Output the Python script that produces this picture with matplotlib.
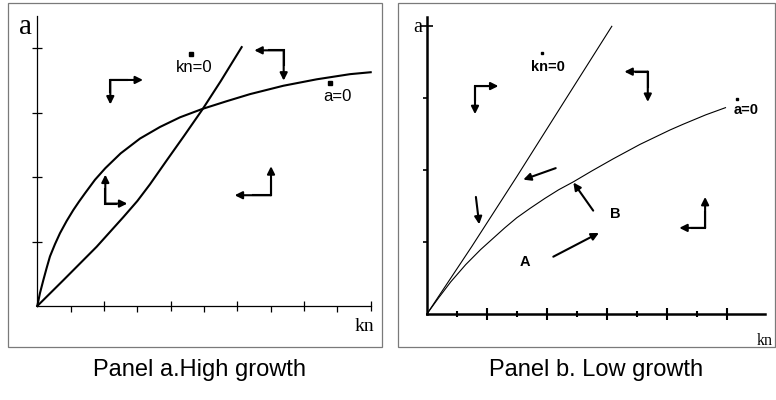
import matplotlib
matplotlib.use("Agg")
import matplotlib.pyplot as plt
from matplotlib.patches import Rectangle

# Panel a (high growth): the two nullclines
pa_kn_x = [0.0, 0.78, 1.78, 2.58, 3.00, 3.38, 3.88, 4.40, 4.95, 5.50, 6.13]
pa_kn_y = [0.0, 0.40, 0.92, 1.38, 1.63, 1.89, 2.26, 2.64, 3.05, 3.49, 4.02]
pa_a_x = [0.0, 0.08, 0.18, 0.28, 0.38, 0.53, 0.68, 0.88, 1.08, 1.25, 1.43, 1.73,
          2.04, 2.50, 3.08, 3.68, 4.28, 4.95, 5.68, 6.38, 7.38, 8.38, 9.38, 10.0]
pa_a_y = [0.0, 0.20, 0.40, 0.59, 0.77, 0.96, 1.13, 1.32, 1.49, 1.62, 1.75, 1.96,
          2.14, 2.37, 2.60, 2.78, 2.93, 3.06, 3.18, 3.29, 3.42, 3.52, 3.60, 3.63]

# Panel b (low growth)
pb_kn_x = [0.0, 1.50, 3.00, 4.50, 6.17]
pb_kn_y = [0.0, 0.94, 1.91, 2.90, 4.00]
pb_a_x = [0.0, 0.4, 0.8, 1.3, 1.8, 2.2, 2.6, 3.0, 3.44, 3.94, 4.4, 4.89, 5.5,
          6.22, 7.11, 8.11, 8.55, 9.3, 9.96]
pb_a_y = [0.0, 0.23, 0.45, 0.69, 0.90, 1.05, 1.20, 1.34, 1.47, 1.61, 1.73, 1.84,
          1.99, 2.16, 2.36, 2.56, 2.64, 2.77, 2.87]

# phase arrows: (corner, tip1, tip2) for the L shapes, (tail, head) for straight ones
pa_corners = [((2.19, 3.51), (3.17, 3.51), (2.19, 3.13)),
              ((7.39, 3.97), (6.51, 3.97), (7.39, 3.50)),
              ((2.04, 1.59), (2.04, 2.04), (2.70, 1.59)),
              ((7.01, 1.72), (7.01, 2.17), (5.92, 1.72))]
pb_corners = [((1.61, 3.17), (2.39, 3.17), (1.61, 2.78)),
              ((7.37, 3.37), (6.59, 3.37), (7.37, 2.95)),
              ((9.28, 1.20), (9.28, 1.63), (8.42, 1.20))]
pb_arrows = [((4.30, 2.03), (3.22, 1.87)),
             ((1.64, 1.63), (1.75, 1.25)),
             ((5.55, 1.44), (4.89, 1.83)),
             ((4.22, 0.80), (5.74, 1.13))]

W, H = 776, 400
SANS = "Liberation Sans"
SERIF = "Liberation Serif"


def fx(px):
    return px / W


def fy(py):
    return 1 - py / H


def arrow(ax, start, end, lw):
    ax.annotate("", xy=end, xytext=start,
                arrowprops=dict(arrowstyle="-|>", lw=lw, color="black",
                                mutation_scale=11, shrinkA=0, shrinkB=0))


def l_arrow(ax, corner, tip1, tip2, lw):
    # short polyline through the corner so the joint is closed
    m1 = ((corner[0] + tip1[0]) / 2, (corner[1] + tip1[1]) / 2)
    m2 = ((corner[0] + tip2[0]) / 2, (corner[1] + tip2[1]) / 2)
    ax.plot([m1[0], corner[0], m2[0]], [m1[1], corner[1], m2[1]],
            color="black", lw=lw, solid_joinstyle="miter", clip_on=False)
    arrow(ax, corner, tip1, lw)
    arrow(ax, corner, tip2, lw)


def style_axes(ax, xmax, ymax, lw):
    ax.set_xlim(0, xmax)
    ax.set_ylim(0, ymax)
    ax.patch.set_visible(False)
    for side in ["top", "right"]:
        ax.spines[side].set_visible(False)
    for side in ["left", "bottom"]:
        ax.spines[side].set_linewidth(lw)
    ax.set_xticks([2, 4, 6, 8, 10])
    ax.set_xticks([1, 3, 5, 7, 9], minor=True)
    ax.tick_params(labelbottom=False, labelleft=False)


fig = plt.figure(figsize=(7.76, 4), dpi=100)

# panel frames
for left, right in [(8, 382), (398, 774.5)]:
    fig.patches.append(Rectangle((fx(left), fy(347)), (right - left) / W, 344 / H,
                                 transform=fig.transFigure, fill=False,
                                 ec="#7a7a7a", lw=0.9))

# ---- Panel a ----
ax1 = fig.add_axes([fx(37.3), fy(306), 333.4 / W, 289.8 / H])
style_axes(ax1, 10, 4.5, 0.9)
ax1.set_yticks([1, 2, 3, 4])
ax1.tick_params(axis="x", which="major", direction="inout", length=7, width=0.9)
ax1.tick_params(axis="x", which="minor", direction="out", length=4, width=0.9)
ax1.tick_params(axis="y", direction="inout", length=7, width=0.9)

ax1.plot(pa_kn_x, pa_kn_y, color="black", lw=1.5, clip_on=False,
         solid_joinstyle="round")
ax1.plot(pa_a_x, pa_a_y, color="black", lw=1.5, clip_on=False,
         solid_joinstyle="round")
for c, t1, t2 in pa_corners:
    l_arrow(ax1, c, t1, t2, 1.5)

ax1.text(4.72, 3.70, "kn=0", family=SANS, fontsize=12, ha="center", va="center")
ax1.plot([4.61], [3.91], "s", color="black", ms=2.2)
ax1.text(9.0, 3.25, "a=0", family=SANS, fontsize=12, ha="center", va="center")
ax1.plot([8.78], [3.47], "s", color="black", ms=2.2)

fig.text(fx(26), fy(34), "a", family=SERIF, fontsize=21, ha="center", va="baseline")
fig.text(fx(364.5), fy(331), "kn", family=SERIF, fontsize=14, ha="center", va="baseline")

# ---- Panel b ----
ax2 = fig.add_axes([fx(426.7), fy(314.3), 338.4 / W, 297 / H])
style_axes(ax2, 11.28, 4.125, 1.8)
ax2.set_yticks([4])
ax2.set_yticks([1, 2, 3], minor=True)
ax2.tick_params(axis="x", which="major", direction="inout", length=8, width=1.5)
ax2.tick_params(axis="x", which="minor", direction="inout", length=4, width=1.5)
ax2.tick_params(axis="y", which="major", direction="inout", length=8, width=1.2)
ax2.tick_params(axis="y", which="minor", direction="out", length=3, width=1.2)

ax2.plot(pb_kn_x, pb_kn_y, color="black", lw=0.8, clip_on=False)
ax2.plot(pb_a_x, pb_a_y, color="black", lw=0.8, clip_on=False)
for c, t1, t2 in pb_corners:
    l_arrow(ax2, c, t1, t2, 1.5)
for tail, head in pb_arrows:
    arrow(ax2, tail, head, 1.5)

ax2.text(4.03, 3.44, "kn=0", family=SANS, fontsize=10.5, weight="bold", ha="center", va="center")
ax2.plot([3.83], [3.63], "s", color="black", ms=1.8)
ax2.text(10.65, 2.84, "a=0", family=SANS, fontsize=10.5, weight="bold", ha="center", va="center")
ax2.plot([10.35], [2.99], "s", color="black", ms=1.8)
ax2.text(3.28, 0.73, "A", family=SANS, fontsize=10.5, weight="bold", ha="center", va="center")
ax2.text(6.30, 1.39, "B", family=SANS, fontsize=10.5, weight="bold", ha="center", va="center")

fig.text(fx(418), fy(32), "a", family=SERIF, fontsize=14.5, ha="center", va="baseline")
fig.text(fx(765), fy(345), "kn", family=SERIF, fontsize=11.5, ha="center", va="baseline")

# captions
fig.text(fx(200), fy(370), "Panel a.High growth", family=SANS, fontsize=17,
         ha="center", va="center")
fig.text(fx(596), fy(370), "Panel b. Low growth", family=SANS, fontsize=17,
         ha="center", va="center")

fig.savefig("out.png", dpi=100)
